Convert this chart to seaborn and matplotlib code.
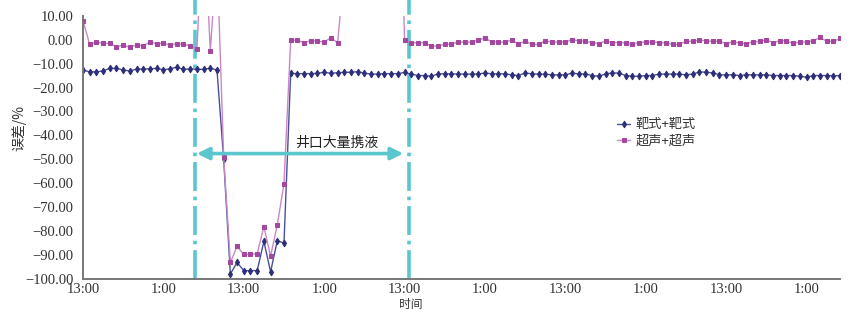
import numpy as np
import pandas as pd
import matplotlib
matplotlib.use("Agg")
import matplotlib.pyplot as plt
import seaborn as sns

# ---------------- data (hourly, hour 0 = 13:00 of day 1) ----------------
series_names = ["靶式+靶式", "超声+超声"]

target_err = [
    -12.7, -13.5, -13.4, -13.1, -12.0, -12.0, -12.7, -13.1, -12.3, -12.3,
    -12.2, -12.0, -12.6, -12.2, -11.5, -12.4, -12.2, -12.4, -12.4, -11.9,
    -12.7, -50.0, -97.9, -93.1, -96.5, -96.5, -96.5, -84.3, -97.0, -84.0,
    -85.0, -14.1, -14.2, -14.2, -14.2, -14.1, -13.6, -14.1, -13.8, -13.7,
    -13.6, -13.4, -14.0, -14.4, -14.4, -14.2, -14.2, -14.2,
    -13.7, -14.4, -15.0, -15.0, -15.3, -14.3, -14.3, -14.3, -14.4, -14.4,
    -14.4, -14.4, -13.9, -14.3, -14.3, -14.3, -14.7, -15.0, -13.9, -14.3,
    -14.4, -14.4, -14.7, -14.7, -14.7, -14.0, -14.3, -14.4, -15.0, -15.3,
    -14.3, -13.9, -14.0, -15.0, -15.3, -15.3, -15.0, -15.0, -14.4, -14.4,
    -14.4, -14.4, -14.7, -14.4, -13.5, -13.6, -13.9, -14.7, -14.7, -14.7,
    -15.0, -14.7, -14.7, -14.7, -14.7, -15.0, -15.0, -15.0, -15.0, -15.3,
    -15.7, -15.0, -15.0, -15.0, -15.1, -15.0,
]

ultra_err = [
    7.9, -2.0, -1.1, -1.5, -1.6, -3.0, -2.3, -3.2, -2.2, -2.6,
    -1.0, -1.7, -1.5, -2.3, -1.7, -1.9, -2.6, -4.0, 55.0, -4.7,
    35.0, -49.0, -93.1, -86.4, -89.7, -89.7, -89.4, -78.1, -90.5, -77.4,
    -60.2, -0.2, -0.3, -1.3, -0.4, -0.6, -1.0, 0.8, -1.3, 28.0,
    60.0, 60.0, 60.0, 60.0, 60.0, 60.0, 60.0, 100.0,
    -0.2, -1.3, -1.3, -1.3, -2.7, -2.7, -1.9, -1.9, -1.0, -1.0,
    -1.0, -0.2, 0.7, -1.0, -1.0, -1.0, -0.2, -1.7, -0.7, -2.0,
    -2.0, -0.5, -1.0, -1.0, -1.0, 0.0, -0.5, -0.7, -1.2, -1.7,
    -0.5, -1.2, -1.2, -1.4, -2.0, -1.2, -1.0, -1.0, -1.2, -1.4,
    -2.0, -2.0, -0.7, -0.7, -0.2, -0.5, -0.7, -0.7, -1.7, -1.0,
    -1.4, -1.7, -1.0, -0.7, 0.0, -1.3, -0.5, -0.5, -1.6, -1.0,
    -1.0, -0.5, 0.9, -0.7, -0.7, 0.5,
]

hours = list(range(len(target_err)))
tick_hours = [0, 12, 24, 36, 48, 60, 72, 84, 96, 108]
tick_labels = ["13:00", "1:00", "13:00", "1:00", "13:00",
               "1:00", "13:00", "1:00", "13:00", "1:00"]

event_hours = [16.7, 48.6]          # start / end of liquid loading
event_label = "井口大量携液"
event_label_x = 37.9
event_label_y = -43.0
arrow_y = -47.6

# ---------------- figure ----------------
sns.set_style("white")
plt.rcParams["font.family"] = ["Liberation Serif", "Noto Sans CJK SC", "DejaVu Sans"]
plt.rcParams["axes.unicode_minus"] = True
cjk = ["Noto Sans CJK SC", "DejaVu Sans"]

fig = plt.figure(figsize=(8.52, 3.12), dpi=100)
ax = fig.add_axes([0.0974, 0.1058, 0.8886, 0.8439])

df_t = pd.DataFrame({"hour": hours, "err": target_err})
df_u = pd.DataFrame({"hour": hours, "err": ultra_err})

blue = "#2c2f78"
purple_line = "#c888c6"
purple_mark = "#a4479f"

sns.lineplot(data=df_t, x="hour", y="err", ax=ax, color="#4a4f9a", lw=1.0,
             marker="d", markersize=3.4, markerfacecolor=blue, markeredgecolor=blue,
             label=series_names[0], sort=False)
sns.lineplot(data=df_u, x="hour", y="err", ax=ax, color=purple_line, lw=1.0,
             marker="s", markersize=3.1, markerfacecolor=purple_mark,
             markeredgecolor=purple_mark, label=series_names[1], sort=False)

cyan = "#5cc6cf"
for h in event_hours:
    ax.axvline(h, ymin=0, ymax=1.065, color=cyan, lw=2.6, clip_on=False,
               linestyle=(0, (8, 1.6, 1, 1.6)), zorder=1)

ax.annotate("", xy=(event_hours[0] + 0.3, arrow_y), xytext=(event_hours[1] - 0.8, arrow_y),
            arrowprops=dict(arrowstyle="<|-|>", color=cyan, lw=2.6,
                            mutation_scale=18, shrinkA=0, shrinkB=0), zorder=3)
ax.text(event_label_x, event_label_y, event_label, ha="center", va="center",
        fontsize=10, family=cjk, color="#222222")

ax.set_xlim(0, 113.0)
ax.set_ylim(-100, 10)
ax.set_xticks(tick_hours)
ax.set_xticklabels(tick_labels)
ax.set_xticks(hours, minor=True)
ax.set_yticks(np.arange(-100, 11, 10))
ax.set_yticks(np.arange(-95, 10, 10), minor=True)
ax.yaxis.set_major_formatter(matplotlib.ticker.FuncFormatter(
    lambda v, p: ("\u2212" if v < 0 else "") + "%.2f" % abs(v)))

for s in ["top", "right"]:
    ax.spines[s].set_visible(False)
for s in ["left", "bottom"]:
    ax.spines[s].set_color("#777777")
    ax.spines[s].set_linewidth(1.4)

ax.tick_params(axis="both", which="major", direction="in", length=4, width=1,
               color="#555555", labelsize=10.5, labelcolor="#333333")
ax.tick_params(axis="x", which="major", pad=3)
ax.tick_params(axis="y", which="major", pad=7)
ax.tick_params(axis="both", which="minor", direction="in", length=2.5, width=0.9,
               color="#555555")

ax.set_ylabel("误差/%", fontsize=10, family=cjk, color="#333333")
ax.yaxis.set_label_coords(-0.075, 0.575)
ax.set_xlabel("时间", fontsize=8.5, family=cjk, color="#333333")
ax.xaxis.set_label_coords(0.433, -0.072)
ax.xaxis.label.set_va("top")
ax.grid(False)

leg = ax.legend(loc="upper left", bbox_to_anchor=(0.69, 0.655), frameon=False,
                handlelength=1.0, handletextpad=0.4, labelspacing=0.25,
                prop={"family": cjk, "size": 9.5})
for t in leg.get_texts():
    t.set_color("#333333")

fig.savefig("out.png", dpi=100)
